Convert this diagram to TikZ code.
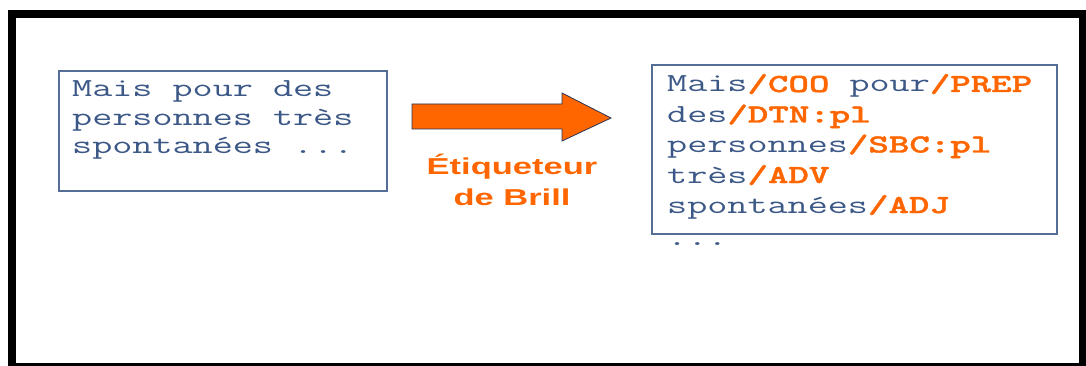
\documentclass[tikz,border=0pt]{standalone}
\usepackage{fontspec}
\newfontfamily\monofam{Latin Modern Mono}[FakeStretch=1.5]
\newfontfamily\monobold{lmmonolt10-bold.otf}[FakeStretch=1.5,FakeBold=1.5]
\newfontfamily\labfam{Liberation Sans}[FakeStretch=1.5]
\definecolor{txtblue}{RGB}{60,88,135}
\definecolor{boxblue}{RGB}{85,110,150}
\definecolor{orng}{RGB}{255,102,0}
\definecolor{navy}{RGB}{40,50,85}
\newcommand{\tg}[1]{{\monobold\color{orng}#1}}
\tikzset{
  txtline/.style={anchor=base west, inner sep=0pt, text=txtblue, font=\fontsize{26}{28}\monofam},
  tbox/.style={draw=boxblue, line width=1.2pt, inner sep=0pt},
  lab/.style={anchor=base, inner sep=0pt, text=orng, font=\fontsize{23}{26}\labfam\bfseries}
}
\begin{document}
\begin{tikzpicture}[x=1pt,y=-1pt]
\useasboundingbox (0,0) rectangle (1086,366);
\clip (0,0) rectangle (1086,366);
% outer frame
\draw[line width=7.5pt] (11.75,14) rectangle (1083,367);
% left box
\node[tbox, minimum width=328pt, minimum height=120pt] (lbox) at (223,131) {};
\node[txtline] (a1) at (72,97) {Mais pour des};
\node[txtline] (a2) at (72,125.5) {personnes très};
\node[txtline] (a3) at (72,154) {spontanées ...};
% arrow
\fill[orng, draw=navy, line width=0.8pt] (412,104) -- (562,104) -- (562,93) -- (611,118) -- (562,141) -- (562,129) -- (412,129) -- cycle;
\node[lab] (t1) at (512,175) {Étiqueteur};
\node[lab] (t2) at (512,205) {de Brill};
% right box
\node[tbox, minimum width=405pt, minimum height=169pt] (rbox) at (854.5,149.5) {};
\node[txtline] (b1) at (667,92) {Mais\tg{/COO} pour\tg{/PREP}};
\node[txtline] (b2) at (667,122.5) {des\tg{/DTN:pl}};
\node[txtline] (b3) at (667,152.5) {personnes\tg{/SBC:pl}};
\node[txtline] (b4) at (667,183) {très\tg{/ADV}};
\node[txtline] (b5) at (667,213) {spontanées\tg{/ADJ}};
\node[txtline] (b6) at (667,245) {...};
\end{tikzpicture}
\end{document}
